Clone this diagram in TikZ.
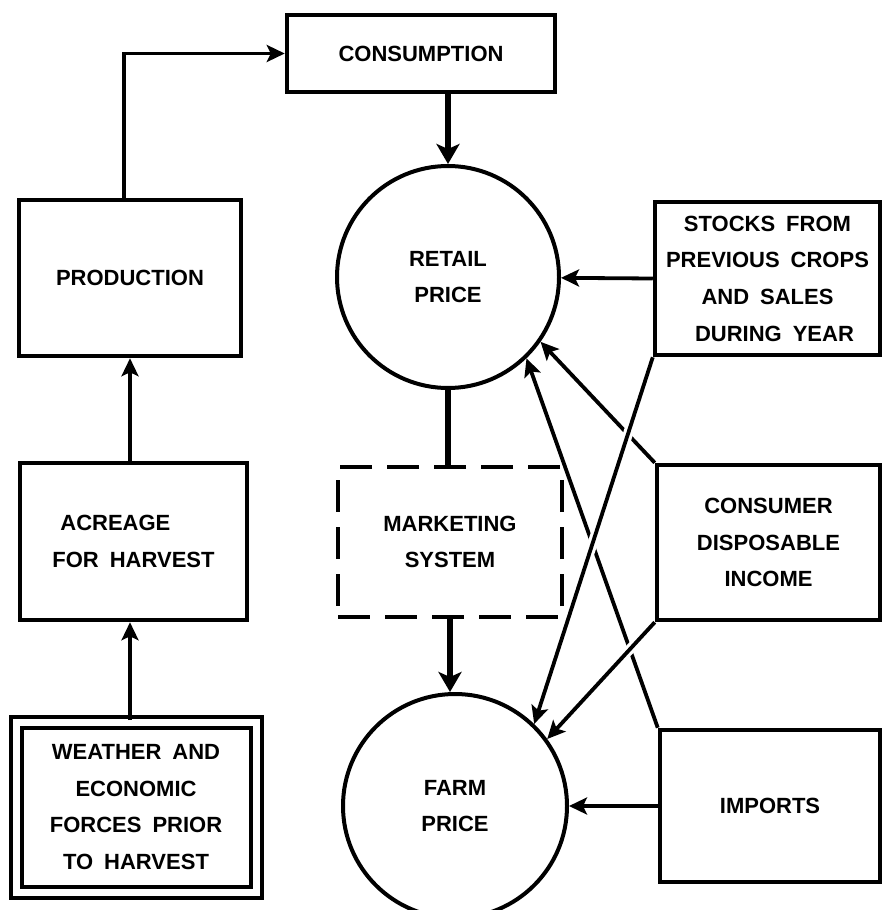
\documentclass[tikz,border=0pt]{standalone}
\usepackage{fontspec}
\setmainfont{Liberation Sans}
\usetikzlibrary{arrows.meta}
\newcommand{\lblfont}{\fontsize{22}{36.7}\selectfont\bfseries\spaceskip=11pt\relax}
\begin{document}
\begin{tikzpicture}[x=1pt,y=-1pt,
  lbl/.style={font=\lblfont, align=center, inner sep=0pt},
  box/.style={lbl, draw, rectangle, line width=4.5pt},
  price/.style={lbl, draw, circle, line width=4pt, minimum size=222pt},
  feed/.style={line width=3.8pt, -{Stealth[length=18pt,width=17pt,inset=4pt]}},
  main/.style={line width=6pt, -{Stealth[length=20pt,width=23pt,inset=5pt]}},
  link/.style={line width=6pt},
  gap/.style={draw=white, line width=10pt, shorten <=28pt, shorten >=40pt},
]
\path[fill=white] (0,0) rectangle (882,910);
\useasboundingbox (0,0) rectangle (882,910);

% left column: supply side
\node[box, minimum width=268pt, minimum height=77pt] (cons) at (421,53.5) {CONSUMPTION};
\node[box, minimum width=222pt, minimum height=156pt] (prod) at (130,278) {PRODUCTION};
\node[box, minimum width=227pt, minimum height=157pt, align=left] (acre) at (133.5,541.5) {\hspace*{8pt}ACREAGE\\FOR HARVEST};
\node[box, double, double distance=7pt, line width=4pt, minimum width=240pt, minimum height=170pt] (wthr) at (136,807)
  {WEATHER AND\\ECONOMIC\\FORCES PRIOR\\TO HARVEST};

% centre column: prices and marketing
\node[price] (retail) at (448,277) {RETAIL\\PRICE};
\node[lbl, draw, line width=4.5pt, dash pattern=on 32pt off 15pt, minimum width=224pt, minimum height=150pt] (mkt) at (450,542) {MARKETING\\SYSTEM};
\node[price, minimum size=224pt] (farm) at (455,806) {FARM\\PRICE};

% right column: outside influences
\node[box, minimum width=225pt, minimum height=153pt] (stocks) at (767.5,278.5) {STOCKS FROM\\PREVIOUS CROPS\\AND SALES\\\hspace*{14pt}DURING YEAR};
\node[box, minimum width=223pt, minimum height=155pt] (income) at (768.5,542.5) {CONSUMER\\DISPOSABLE\\INCOME};
\node[box, minimum width=220pt, minimum height=152pt] (imports) at (770,806) {IMPORTS};

% supply chain on the left
\draw[feed] (wthr.north -| prod.south) -- (acre.south -| prod.south);
\draw[feed] (acre.north -| prod.south) -- (prod.south);
\draw[feed] ([xshift=-6pt]prod.north) |- (cons.west);

% vertical price chain
\draw[main] (cons.south -| retail.north) -- (retail.north);
\draw[link] (retail.south) -- (retail.south |- mkt.north);
\draw[main] (mkt.south) -- (mkt.south |- farm.north);

% horizontal inputs
\draw[feed] (stocks.west) -- (retail);
\draw[feed] (imports.west) -- (farm);

% crossing inputs: lower lines first, then the lines passing over them
\draw[feed] (imports.north west) -- (retail.-46);
\draw[feed] (income.north west) -- (retail.-35);
\draw[gap] (stocks.south west) -- (farm.46);
\draw[feed] (stocks.south west) -- (farm.46);
\draw[gap, shorten <=22pt] (income.south west) -- (farm.36);
\draw[feed] (income.south west) -- (farm.36);
\end{tikzpicture}
\end{document}
